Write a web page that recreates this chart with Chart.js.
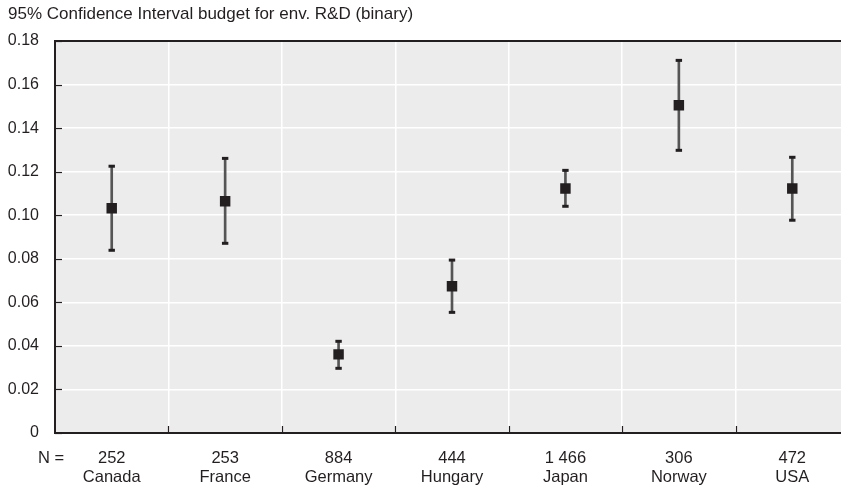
<!DOCTYPE html>
<html>
<head>
<meta charset="utf-8">
<script src="https://cdn.jsdelivr.net/npm/chart.js@4"></script>
<style>
  body { margin: 0; overflow: hidden; background: #fff; }
  #wrap { width: 860px; height: 491px; }
</style>
</head>
<body>
<div id="wrap"><canvas id="myChart" width="860" height="491"></canvas></div>
<script>
// values
const countries = ["Canada", "France", "Germany", "Hungary", "Japan", "Norway", "USA"];
const sampleN = ["252", "253", "884", "444", "1 466", "306", "472"];
const means = [0.1032, 0.1064, 0.0361, 0.0674, 0.1123, 0.1505, 0.1123];
const lows  = [0.0839, 0.0871, 0.0297, 0.0554, 0.1041, 0.1298, 0.0977];
const highs = [0.1225, 0.1261, 0.0421, 0.0794, 0.1206, 0.1711, 0.1266];
const yTicks = [0, 0.02, 0.04, 0.06, 0.08, 0.10, 0.12, 0.14, 0.16, 0.18];

const dark = '#231f20';
const fontName = "'Liberation Sans', Arial, sans-serif";

let labels = countries.map((c, i) => [sampleN[i], c]);

// grey plot background, top border, little inside tick marks, "N =" text
const decor = {
  id: 'decor',
  beforeDraw(chart) {
    const a = chart.chartArea;
    const ctx = chart.ctx;
    ctx.save();
    ctx.fillStyle = '#ececec';
    ctx.fillRect(a.left, a.top, a.right - a.left, a.bottom - a.top);
    ctx.restore();
  },
  afterDraw(chart) {
    const a = chart.chartArea;
    const ctx = chart.ctx;
    const x = chart.scales.x;
    const y = chart.scales.y;
    ctx.save();
    ctx.strokeStyle = dark;
    ctx.lineWidth = 2;
    ctx.beginPath();
    ctx.moveTo(a.left - 1, a.top);
    ctx.lineTo(chart.width, a.top);
    ctx.stroke();

    ctx.lineWidth = 1.2;
    yTicks.forEach(v => {
      const py = Math.round(y.getPixelForValue(v)) + 0.5;
      ctx.beginPath();
      ctx.moveTo(a.left, py);
      ctx.lineTo(a.left + 7, py);
      ctx.stroke();
    });
    for (let i = 0; i < countries.length - 1; i++) {
      const px = Math.round((x.getPixelForValue(i) + x.getPixelForValue(i + 1)) / 2) + 0.5;
      ctx.beginPath();
      ctx.moveTo(px, a.bottom);
      ctx.lineTo(px, a.bottom - 7);
      ctx.stroke();
    }

    ctx.fillStyle = dark;
    ctx.font = '16.5px ' + fontName;
    ctx.textAlign = 'left';
    ctx.textBaseline = 'middle';
    ctx.fillText('N =', 38, a.bottom + 25);
    ctx.restore();
  }
};

const myChart = document.getElementById('myChart');

let ciChart = new Chart(myChart, {
  data: {
    labels: labels,
    datasets: [
      {
        type: 'line',
        label: 'mean',
        data: means,
        showLine: false,
        pointStyle: 'rect',
        pointRadius: 7.4,
        pointBorderWidth: 0,
        pointBackgroundColor: dark,
        order: 0
      },
      {
        type: 'line',
        label: 'upper',
        data: highs,
        showLine: false,
        pointStyle: 'line',
        pointRadius: 3.2,
        pointBorderWidth: 3,
        pointBorderColor: dark,
        order: 1
      },
      {
        type: 'line',
        label: 'lower',
        data: lows,
        showLine: false,
        pointStyle: 'line',
        pointRadius: 3.2,
        pointBorderWidth: 3,
        pointBorderColor: dark,
        order: 1
      },
      {
        type: 'bar',
        label: 'ci',
        data: lows.map((l, i) => [l, highs[i]]),
        backgroundColor: '#555555',
        barThickness: 2,
        order: 2
      }
    ]
  },
  options: {
    responsive: false,
    animation: false,
    layout: { padding: { left: 8, right: 11, top: 0, bottom: 0 } },
    plugins: {
      legend: { display: false },
      tooltip: { enabled: false },
      title: {
        display: true,
        text: '95% Confidence Interval budget for env. R&D (binary)',
        align: 'start',
        color: dark,
        font: { family: fontName, size: 17, weight: 'normal' },
        padding: { top: 4, bottom: 16.6 }
      }
    },
    scales: {
      x: {
        type: 'category',
        offset: true,
        grid: { color: '#ffffff', lineWidth: 1.5, offset: true, drawTicks: false },
        border: { color: dark, width: 2 },
        ticks: {
          color: dark,
          padding: 15.5,
          maxRotation: 0,
          font: { family: fontName, size: 16.5, lineHeight: 1.15 }
        },
        afterFit: s => { s.height = 58; }
      },
      y: {
        min: 0,
        max: 0.18,
        grid: { color: '#ffffff', lineWidth: 1.5, drawTicks: false },
        border: { color: dark, width: 2 },
        ticks: {
          stepSize: 0.02,
          color: dark,
          padding: 16,
          font: { family: fontName, size: 16 },
          callback: v => (v === 0 ? '0' : v.toFixed(2))
        },
        afterFit: s => { s.width = 47; }
      }
    }
  },
  plugins: [decor]
});
</script>
</body>
</html>
